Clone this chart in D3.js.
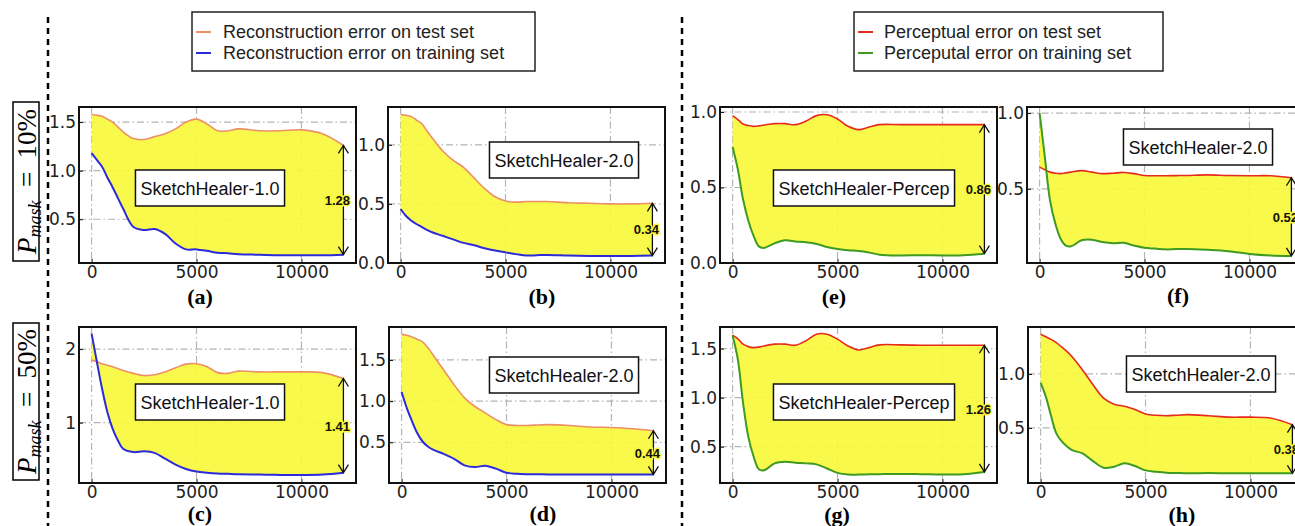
<!DOCTYPE html>
<html>
<head>
<meta charset="utf-8">
<script src="https://cdn.jsdelivr.net/npm/d3@7"></script>
<style>
body { margin: 0; background: #fff; }
svg { display: block; }
</style>
</head>
<body>
<script>
/* Data */
var steps = [0, 250, 500, 750, 1000, 1250, 1500, 2000, 2500, 3000, 3500, 4000, 4500, 5000, 5500, 6000, 6500, 7000, 8000, 9000, 10000, 11000, 12000];

var testA  = [1.575, 1.57, 1.56, 1.53, 1.50, 1.45, 1.40, 1.33, 1.32, 1.35, 1.38, 1.43, 1.50, 1.53, 1.48, 1.41, 1.41, 1.43, 1.41, 1.41, 1.42, 1.38, 1.26];
var trainA = [1.18, 1.11, 1.04, 0.93, 0.83, 0.72, 0.61, 0.42, 0.39, 0.40, 0.35, 0.25, 0.19, 0.19, 0.175, 0.155, 0.15, 0.14, 0.135, 0.13, 0.13, 0.13, 0.136];
var testB  = [1.257, 1.25, 1.24, 1.21, 1.18, 1.12, 1.06, 0.95, 0.87, 0.81, 0.72, 0.63, 0.56, 0.525, 0.515, 0.52, 0.52, 0.52, 0.51, 0.505, 0.50, 0.50, 0.505];
var trainB = [0.457, 0.40, 0.36, 0.33, 0.305, 0.28, 0.26, 0.23, 0.20, 0.17, 0.15, 0.125, 0.105, 0.09, 0.075, 0.063, 0.066, 0.068, 0.063, 0.06, 0.06, 0.06, 0.063];
var testC  = [1.85, 1.83, 1.80, 1.78, 1.76, 1.735, 1.71, 1.67, 1.64, 1.65, 1.69, 1.745, 1.795, 1.80, 1.76, 1.68, 1.67, 1.70, 1.69, 1.69, 1.69, 1.68, 1.60];
var trainC = [2.21, 1.83, 1.46, 1.145, 0.92, 0.76, 0.645, 0.60, 0.61, 0.59, 0.51, 0.43, 0.37, 0.335, 0.32, 0.31, 0.305, 0.30, 0.295, 0.29, 0.29, 0.295, 0.32];
var testD  = [1.81, 1.80, 1.78, 1.75, 1.72, 1.65, 1.56, 1.38, 1.20, 1.04, 0.935, 0.855, 0.775, 0.715, 0.705, 0.705, 0.71, 0.715, 0.705, 0.685, 0.68, 0.665, 0.64];
var trainD = [1.11, 0.915, 0.755, 0.61, 0.51, 0.45, 0.41, 0.36, 0.30, 0.22, 0.20, 0.215, 0.18, 0.13, 0.117, 0.113, 0.112, 0.11, 0.11, 0.11, 0.11, 0.11, 0.11];
var testE  = [0.976, 0.95, 0.92, 0.91, 0.905, 0.908, 0.914, 0.923, 0.923, 0.916, 0.94, 0.976, 0.982, 0.954, 0.905, 0.883, 0.90, 0.916, 0.916, 0.916, 0.916, 0.916, 0.916];
var trainE = [0.768, 0.62, 0.42, 0.28, 0.18, 0.11, 0.10, 0.13, 0.15, 0.143, 0.137, 0.126, 0.106, 0.093, 0.084, 0.08, 0.07, 0.055, 0.05, 0.052, 0.05, 0.052, 0.062];
var testF  = [0.643, 0.626, 0.61, 0.603, 0.60, 0.605, 0.61, 0.62, 0.61, 0.60, 0.603, 0.608, 0.60, 0.588, 0.586, 0.586, 0.587, 0.588, 0.592, 0.588, 0.586, 0.586, 0.573];
var trainF = [1.0, 0.71, 0.42, 0.27, 0.17, 0.125, 0.12, 0.16, 0.163, 0.148, 0.14, 0.143, 0.125, 0.11, 0.105, 0.10, 0.102, 0.103, 0.097, 0.088, 0.07, 0.06, 0.057];
var testG  = [1.637, 1.60, 1.545, 1.52, 1.51, 1.515, 1.527, 1.545, 1.545, 1.534, 1.58, 1.647, 1.647, 1.596, 1.527, 1.486, 1.51, 1.538, 1.538, 1.534, 1.534, 1.534, 1.534];
var trainG = [1.637, 1.39, 0.945, 0.60, 0.40, 0.27, 0.26, 0.33, 0.346, 0.336, 0.33, 0.32, 0.278, 0.233, 0.216, 0.216, 0.218, 0.22, 0.223, 0.22, 0.216, 0.22, 0.243];
var testH  = [1.368, 1.345, 1.32, 1.29, 1.25, 1.21, 1.16, 1.037, 0.90, 0.776, 0.72, 0.70, 0.67, 0.63, 0.617, 0.613, 0.618, 0.623, 0.613, 0.60, 0.60, 0.59, 0.53];
var trainH = [0.92, 0.79, 0.61, 0.45, 0.377, 0.33, 0.294, 0.264, 0.193, 0.132, 0.141, 0.172, 0.147, 0.107, 0.095, 0.086, 0.083, 0.08, 0.082, 0.08, 0.08, 0.08, 0.08];

var xTicks = [0, 5000, 10000];
var gapLabels = ["1.28", "0.34", "1.41", "0.44", "0.86", "0.52", "1.26", "0.38"];
var modelNames = ["SketchHealer-1.0", "SketchHealer-2.0", "SketchHealer-1.0", "SketchHealer-2.0",
                  "SketchHealer-Percep", "SketchHealer-2.0", "SketchHealer-Percep", "SketchHealer-2.0"];
var panelTags = ["(a)", "(b)", "(c)", "(d)", "(e)", "(f)", "(g)", "(h)"];
var legendRec = ["Reconstruction error on test set", "Reconstruction error on training set"];
var legendPer = ["Perceptual error on test set", "Perceputal error on training set"];
var rowLabels = ["10%", "50%"];

/* Display setup */
var W = 1295, H = 526,
	plotW = 277, plotH = 156,
	fill = "#f8f83c",
	colors = {
		rec: {test: "#ec9068", train: "#2b2bd8"},
		per: {test: "#e62a1e", train: "#3f9a22"}
	},
	svg = d3.select("body").append("svg")
		.attr("width", W)
		.attr("height", H);

var panels = [
	{test: testA, train: trainA, kind: "rec", left: 79,   top: 107, yDomain: [0.05, 1.655], yTicks: [0.5, 1.0, 1.5], fmt: ".1f", box: [131, 81], tag: [200, 304]},
	{test: testB, train: trainB, kind: "rec", left: 388,  top: 107, yDomain: [0, 1.32],    yTicks: [0, 0.5, 1.0],   fmt: ".1f", box: [176, 53], tag: [542, 304]},
	{test: testC, train: trainC, kind: "rec", left: 79,   top: 327, yDomain: [0.18, 2.3],  yTicks: [1, 2],          fmt: "d",   box: [131, 75], tag: [200, 521]},
	{test: testD, train: trainD, kind: "rec", left: 389,  top: 327, yDomain: [0.006, 1.9], yTicks: [0.5, 1.0, 1.5], fmt: ".1f", box: [175, 48], tag: [543, 521]},
	{test: testE, train: trainE, kind: "per", left: 720,  top: 107, yDomain: [0, 1.033],   yTicks: [0, 0.5, 1.0],   fmt: ".1f", box: [144, 81], tag: [834, 304]},
	{test: testF, train: trainF, kind: "per", left: 1027, top: 107, yDomain: [0.01, 1.04], yTicks: [0.5, 1.0],      fmt: ".1f", box: [171, 40], tag: [1178, 303]},
	{test: testG, train: trainG, kind: "per", left: 720,  top: 327, yDomain: [0.13, 1.72], yTicks: [0.5, 1.0, 1.5], fmt: ".1f", box: [144, 75], tag: [837, 522]},
	{test: testH, train: trainH, kind: "per", left: 1028, top: 327, yDomain: [-0.01, 1.435], yTicks: [0.5, 1.0],    fmt: ".1f", box: [173, 47], tag: [1182, 522]}
];

var x = d3.scaleLinear().domain([-600, 12600]).range([0, plotW]);
var curve = d3.curveCatmullRom.alpha(0.5);

/* Dashed separators */
[48, 682].forEach(function(px) {
	svg.append("line")
		.attr("x1", px).attr("x2", px)
		.attr("y1", 17).attr("y2", H)
		.style("stroke", "#000")
		.style("stroke-width", 2.5)
		.style("stroke-dasharray", "6,5");
});

/* Legends */
function drawLegend(left, width, textX, labels, cols) {
	var g = svg.append("g");
	g.append("rect")
		.attr("x", left).attr("y", 12)
		.attr("width", width).attr("height", 59)
		.style("fill", "#fff")
		.style("stroke", "#222")
		.style("stroke-width", 1.5);
	labels.forEach(function(t, i) {
		var cy = 32 + i * 21;
		g.append("line")
			.attr("x1", left + 4).attr("x2", left + 19)
			.attr("y1", cy).attr("y2", cy)
			.style("stroke", cols[i])
			.style("stroke-width", 2);
		g.append("text")
			.attr("x", textX).attr("y", cy + 6)
			.style("font-family", "'Liberation Sans', Arial, sans-serif")
			.style("font-size", "18px")
			.style("fill", "#222")
			.text(t);
	});
}
drawLegend(192, 343, 223, legendRec, [colors.rec.test, colors.rec.train]);
drawLegend(854, 309, 884, legendPer, [colors.per.test, colors.per.train]);

/* Row labels: P_mask = 10% / 50% */
rowLabels.forEach(function(lab, i) {
	var top = i ? 323 : 102, bot = i ? 480 : 261;
	svg.append("rect")
		.attr("x", 13).attr("y", top)
		.attr("width", 26).attr("height", bot - top)
		.style("fill", "#fff")
		.style("stroke", "#000")
		.style("stroke-width", 1.5);
	var t = svg.append("text")
		.attr("transform", "translate(36," + ((top + bot) / 2) + ") rotate(-90)")
		.attr("text-anchor", "middle")
		.style("font-family", "'Liberation Serif', 'Times New Roman', serif")
		.style("font-size", "27px");
	t.append("tspan").style("font-style", "italic").text("P");
	t.append("tspan").style("font-style", "italic").style("font-size", "18px")
		.attr("dy", 5).text("mask");
	t.append("tspan").attr("dy", -5).text("\u2002=\u2002" + lab);
});

/* Panels */
panels.forEach(function(p, i) {
	var y = d3.scaleLinear().domain(p.yDomain).range([plotH, 0]);
	var cols = colors[p.kind];
	var pts = steps.map(function(s, j) { return {x: s, test: p.test[j], train: p.train[j]}; });

	var g = svg.append("g").attr("transform", "translate(" + p.left + "," + p.top + ")");

	g.append("clipPath").attr("id", "clip" + i)
		.append("rect").attr("width", plotW).attr("height", plotH);

	g.append("rect")
		.attr("width", plotW).attr("height", plotH)
		.style("fill", "#fff");

	// grid
	var grid = g.append("g")
		.style("stroke", "#b4b4b4")
		.style("stroke-width", 1.2)
		.style("stroke-dasharray", "7,3,1.5,3");
	grid.selectAll(".gx").data(xTicks).enter().append("line")
		.attr("x1", x).attr("x2", x)
		.attr("y1", 0).attr("y2", plotH);
	grid.selectAll(".gy").data(p.yTicks).enter().append("line")
		.attr("x1", 0).attr("x2", plotW)
		.attr("y1", y).attr("y2", y);

	var plot = g.append("g").attr("clip-path", "url(#clip" + i + ")");

	var area = d3.area()
		.curve(curve)
		.x(function(d) { return x(d.x); })
		.y0(function(d) { return y(d.train); })
		.y1(function(d) { return y(d.test); });

	plot.append("path")
		.datum(pts)
		.attr("d", area)
		.style("fill", fill)
		.style("fill-opacity", 0.92);

	["test", "train"].forEach(function(k) {
		plot.append("path")
			.datum(pts)
			.attr("d", d3.line()
				.curve(curve)
				.x(function(d) { return x(d.x); })
				.y(function(d) { return y(d[k]); }))
			.style("fill", "none")
			.style("stroke", cols[k])
			.style("stroke-width", k == "train" ? 2 : 1.6);
	});

	// double headed arrow at the last step
	var last = pts[pts.length - 1],
		ax = x(last.x), y1 = y(last.test), y2 = y(last.train);
	var arrow = g.append("g")
		.style("fill", "none")
		.style("stroke", "#111")
		.style("stroke-width", 1.3);
	arrow.append("line")
		.attr("x1", ax).attr("x2", ax)
		.attr("y1", y1).attr("y2", y2);
	arrow.append("path").attr("d", "M" + (ax - 5) + "," + (y1 + 8) + "L" + ax + "," + y1 + "L" + (ax + 5) + "," + (y1 + 8));
	arrow.append("path").attr("d", "M" + (ax - 5) + "," + (y2 - 8) + "L" + ax + "," + y2 + "L" + (ax + 5) + "," + (y2 - 8));

	g.append("text")
		.attr("x", ax - 6).attr("y", (y1 + y2) / 2 + 5)
		.attr("text-anchor", "middle")
		.style("font-family", "'Liberation Sans', Arial, sans-serif")
		.style("font-weight", "bold")
		.style("font-size", "13px")
		.style("fill", "#111")
		.style("stroke", fill)
		.style("stroke-width", 3)
		.style("paint-order", "stroke")
		.text(gapLabels[i]);

	// model name box
	var lab = g.append("g").attr("transform", "translate(" + p.box[0] + "," + p.box[1] + ")");
	var txt = lab.append("text")
		.attr("text-anchor", "middle")
		.attr("y", 6.5)
		.style("font-family", "'Liberation Sans', Arial, sans-serif")
		.style("font-size", "18px")
		.style("fill", "#111")
		.text(modelNames[i]);
	var bw = txt.node().getBBox().width + 10;
	lab.insert("rect", "text")
		.attr("x", -bw / 2).attr("y", -18)
		.attr("width", bw).attr("height", 36)
		.style("fill", "#fff")
		.style("stroke", "#111")
		.style("stroke-width", 1.5);

	// frame
	g.append("rect")
		.attr("width", plotW).attr("height", plotH)
		.style("fill", "none")
		.style("stroke", "#111")
		.style("stroke-width", 2);

	// axes
	var xAxis = g.append("g")
		.attr("transform", "translate(0," + plotH + ")")
		.call(d3.axisBottom(x).tickValues(xTicks).tickSize(-4).tickPadding(3).tickFormat(d3.format("d")));
	var yAxis = g.append("g")
		.call(d3.axisLeft(y).tickValues(p.yTicks).tickSize(-4).tickPadding(3).tickFormat(d3.format(p.fmt)));
	[xAxis, yAxis].forEach(function(a) {
		a.select(".domain").remove();
		a.selectAll("text")
			.style("font-family", "'DejaVu Sans', sans-serif")
			.style("font-size", "17px")
			.style("fill", "#222");
		a.selectAll("line").style("stroke", "#111");
	});

	// sub figure tag
	svg.append("text")
		.attr("x", p.tag[0]).attr("y", p.tag[1])
		.attr("text-anchor", "middle")
		.style("font-family", "'Liberation Serif', 'Times New Roman', serif")
		.style("font-weight", "bold")
		.style("font-size", "22px")
		.text(panelTags[i]);
});
</script>
</body>
</html>
